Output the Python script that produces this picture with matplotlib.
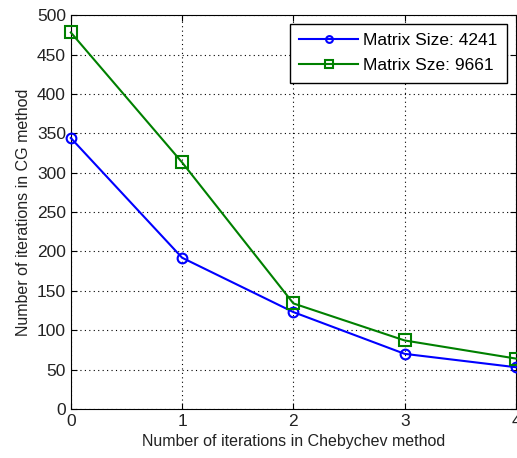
import matplotlib
matplotlib.use("Agg")
import matplotlib.pyplot as plt

plt.rcParams['font.family'] = ['Liberation Sans', 'DejaVu Sans']

cheb_iters = [0, 1, 2, 3, 4]
cg_4241 = [344, 192, 123, 70, 53]
cg_9661 = [478, 313, 134, 87, 64]

fig = plt.figure(figsize=(5.17, 4.58), dpi=100)
ax = fig.add_axes([0.137, 0.107, 0.861, 0.860])

ax.plot(cheb_iters, cg_4241, color='blue', marker='o', markersize=7,
        markerfacecolor='none', markeredgewidth=1.5, linewidth=1.5,
        label='Matrix Size: 4241', clip_on=False, zorder=3)
ax.plot(cheb_iters, cg_9661, color='green', marker='s', markersize=8,
        markerfacecolor='none', markeredgewidth=1.5, linewidth=1.5,
        label='Matrix Sze: 9661', clip_on=False, zorder=3)

ax.set_xlim(0, 4)
ax.set_ylim(0, 500)
ax.set_xticks(range(0, 5))
ax.set_yticks(range(0, 501, 50))
ax.tick_params(direction='in', labelsize=12.5, length=4, top=True, right=True,
               labelcolor='#222222')
ax.grid(True, linestyle=(0, (1, 3)), color='black', linewidth=0.8)

ax.set_xlabel('Number of iterations in Chebychev method', fontsize=11.5,
              color='#222222')
ax.set_ylabel('Number of iterations in CG method', fontsize=11.5,
              color='#222222')

leg = ax.legend(loc='upper right', fontsize=12.5, fancybox=False, framealpha=1,
                edgecolor='black', borderaxespad=0.5, handlelength=3.4,
                markerscale=0.7, labelspacing=0.55, borderpad=0.55,
                handletextpad=0.3)
leg.get_frame().set_linewidth(1.0)

fig.savefig('out.png', dpi=100)
